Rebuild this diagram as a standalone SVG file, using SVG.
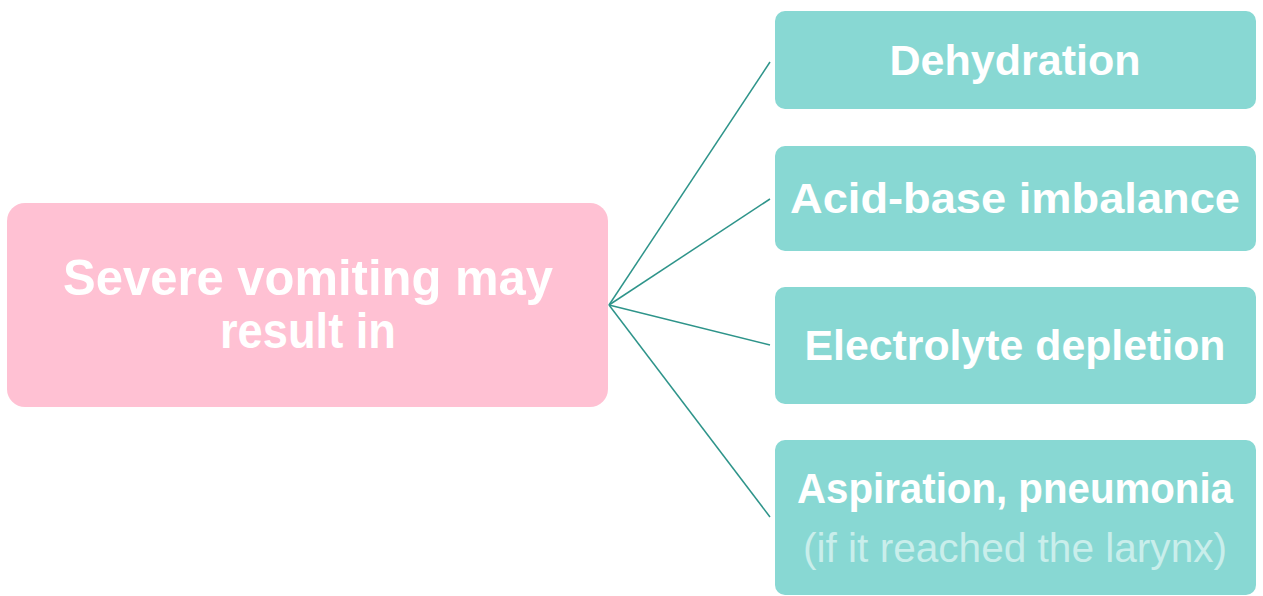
<svg xmlns="http://www.w3.org/2000/svg" width="1263" height="596" viewBox="0 0 1263 596">
<style>
.src{fill:#FFC1D3}
.dst{fill:#88D8D3}
.t{font-family:"Liberation Sans",Arial,sans-serif;font-weight:bold;fill:#FFFFFF;text-anchor:middle}
.sub{font-family:"Liberation Sans",Arial,sans-serif;font-weight:normal;fill:#C9EEEB;text-anchor:middle}
.c{stroke:#2E948A;stroke-width:1.5;fill:none}
</style>
<rect width="1263" height="596" fill="#FFFFFF"/>
<g id="connectors">
<line class="c" x1="609" y1="305" x2="770" y2="62"/>
<line class="c" x1="609" y1="305" x2="770" y2="199"/>
<line class="c" x1="609" y1="305" x2="770" y2="345"/>
<line class="c" x1="609" y1="305" x2="770" y2="517"/>
</g>
<g id="n0">
<rect class="src" x="7" y="203" width="601" height="204" rx="18"/>
<text class="t" x="308" y="295" font-size="50" textLength="490" lengthAdjust="spacingAndGlyphs">Severe vomiting may</text>
<text class="t" x="308" y="348" font-size="50" textLength="176" lengthAdjust="spacingAndGlyphs">result in</text>
</g>
<g id="n1">
<rect class="dst" x="775" y="11" width="481" height="98" rx="10"/>
<text class="t" x="1015" y="75" font-size="43" textLength="251" lengthAdjust="spacingAndGlyphs">Dehydration</text>
</g>
<g id="n2">
<rect class="dst" x="775" y="146" width="481" height="105" rx="10"/>
<text class="t" x="1015" y="213" font-size="43" textLength="450" lengthAdjust="spacingAndGlyphs">Acid-base imbalance</text>
</g>
<g id="n3">
<rect class="dst" x="775" y="287" width="481" height="117" rx="10"/>
<text class="t" x="1015" y="360" font-size="43" textLength="421" lengthAdjust="spacingAndGlyphs">Electrolyte depletion</text>
</g>
<g id="n4">
<rect class="dst" x="775" y="440" width="481" height="155" rx="10"/>
<text class="t" x="1015" y="503" font-size="43" textLength="436" lengthAdjust="spacingAndGlyphs">Aspiration, pneumonia</text>
<text class="sub" x="1015" y="562" font-size="40" textLength="424" lengthAdjust="spacingAndGlyphs">(if it reached the larynx)</text>
</g>
</svg>
